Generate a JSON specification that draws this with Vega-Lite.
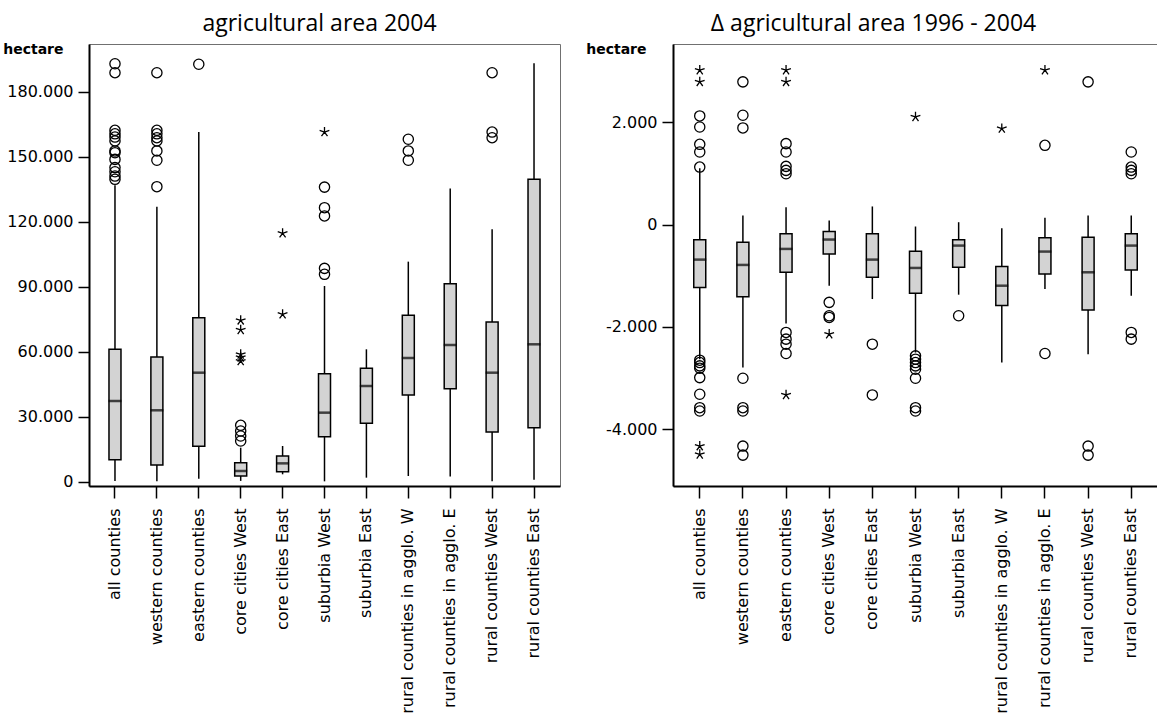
{
  "$schema": "https://vega.github.io/schema/vega-lite/v6.json",
  "padding": {"left": 2, "top": 12, "right": 0, "bottom": 0},
  "spacing": 113,
  "bounds": "flush",
  "config": {
    "locale": {"number": {"decimal": ",", "thousands": ".", "grouping": [3], "currency": ["", ""], "minus": "-"}},
    "view": {"stroke": "#707070", "strokeWidth": 1},
    "font": "DejaVu Sans",
    "axis": {"domainColor": "black", "domainWidth": 2, "tickColor": "black", "tickWidth": 1.5, "labelColor": "black", "labelFont": "DejaVu Sans", "grid": false, "labelLimit": 400},
    "title": {"font": "Open Sans", "fontSize": 23, "fontWeight": "normal", "color": "black"}
  },
  "datasets": {
    "area2004_box": [
      {"cat": "all counties", "lo": 500, "q1": 10290, "med": 37380, "q3": 61240, "hi": 137000},
      {"cat": "western counties", "lo": 300, "q1": 7850, "med": 33090, "q3": 57700, "hi": 127000},
      {"cat": "eastern counties", "lo": 1500, "q1": 16470, "med": 50450, "q3": 75830, "hi": 161500},
      {"cat": "core cities West", "lo": 500, "q1": 2770, "med": 5080, "q3": 8900, "hi": 15830},
      {"cat": "core cities East", "lo": 3550, "q1": 4770, "med": 8600, "q3": 12000, "hi": 16600},
      {"cat": "suburbia West", "lo": 300, "q1": 20900, "med": 32000, "q3": 50000, "hi": 90450},
      {"cat": "suburbia East", "lo": 2000, "q1": 27090, "med": 44300, "q3": 52470, "hi": 61240},
      {"cat": "rural counties in agglo. W", "lo": 2770, "q1": 40150, "med": 57230, "q3": 76930, "hi": 101700},
      {"cat": "rural counties in agglo. E", "lo": 2500, "q1": 43060, "med": 63230, "q3": 91520, "hi": 135500},
      {"cat": "rural counties West", "lo": 300, "q1": 23080, "med": 50450, "q3": 73840, "hi": 116600},
      {"cat": "rural counties East", "lo": 1000, "q1": 25060, "med": 63550, "q3": 139700, "hi": 193300}
    ],
    "area2004_out": [
      {"cat": "all counties", "kind": "outlier", "value": 193050},
      {"cat": "all counties", "kind": "outlier", "value": 188900},
      {"cat": "all counties", "kind": "outlier", "value": 162300},
      {"cat": "all counties", "kind": "outlier", "value": 160700},
      {"cat": "all counties", "kind": "outlier", "value": 159200},
      {"cat": "all counties", "kind": "outlier", "value": 157400},
      {"cat": "all counties", "kind": "outlier", "value": 152800},
      {"cat": "all counties", "kind": "outlier", "value": 152000},
      {"cat": "all counties", "kind": "outlier", "value": 148900},
      {"cat": "all counties", "kind": "outlier", "value": 145100},
      {"cat": "all counties", "kind": "outlier", "value": 143200},
      {"cat": "all counties", "kind": "outlier", "value": 141200},
      {"cat": "all counties", "kind": "outlier", "value": 139700},
      {"cat": "western counties", "kind": "outlier", "value": 188900},
      {"cat": "western counties", "kind": "outlier", "value": 162300},
      {"cat": "western counties", "kind": "outlier", "value": 160700},
      {"cat": "western counties", "kind": "outlier", "value": 158900},
      {"cat": "western counties", "kind": "outlier", "value": 157400},
      {"cat": "western counties", "kind": "outlier", "value": 152800},
      {"cat": "western counties", "kind": "outlier", "value": 148500},
      {"cat": "western counties", "kind": "outlier", "value": 136300},
      {"cat": "eastern counties", "kind": "outlier", "value": 192800},
      {"cat": "core cities West", "kind": "extreme", "value": 74600},
      {"cat": "core cities West", "kind": "extreme", "value": 70200},
      {"cat": "core cities West", "kind": "extreme", "value": 58900},
      {"cat": "core cities West", "kind": "extreme", "value": 57500},
      {"cat": "core cities West", "kind": "extreme", "value": 55800},
      {"cat": "core cities West", "kind": "outlier", "value": 26150},
      {"cat": "core cities West", "kind": "outlier", "value": 23540},
      {"cat": "core cities West", "kind": "outlier", "value": 21230},
      {"cat": "core cities West", "kind": "outlier", "value": 18920},
      {"cat": "core cities East", "kind": "extreme", "value": 114800},
      {"cat": "core cities East", "kind": "extreme", "value": 77400},
      {"cat": "suburbia West", "kind": "extreme", "value": 161500},
      {"cat": "suburbia West", "kind": "outlier", "value": 136100},
      {"cat": "suburbia West", "kind": "outlier", "value": 126600},
      {"cat": "suburbia West", "kind": "outlier", "value": 122800},
      {"cat": "suburbia West", "kind": "outlier", "value": 98600},
      {"cat": "suburbia West", "kind": "outlier", "value": 95850},
      {"cat": "rural counties in agglo. W", "kind": "outlier", "value": 158200},
      {"cat": "rural counties in agglo. W", "kind": "outlier", "value": 152800},
      {"cat": "rural counties in agglo. W", "kind": "outlier", "value": 148500},
      {"cat": "rural counties West", "kind": "outlier", "value": 188900},
      {"cat": "rural counties West", "kind": "outlier", "value": 161500},
      {"cat": "rural counties West", "kind": "outlier", "value": 158900}
    ],
    "change_box": [
      {"cat": "all counties", "lo": -2633, "q1": -1229, "med": -686, "q3": -300, "hi": 1100},
      {"cat": "western counties", "lo": -2797, "q1": -1411, "med": -790, "q3": -347, "hi": 176},
      {"cat": "eastern counties", "lo": -1934, "q1": -934, "med": -477, "q3": -183, "hi": 339},
      {"cat": "core cities West", "lo": -1196, "q1": -575, "med": -294, "q3": -137, "hi": 78},
      {"cat": "core cities East", "lo": -1457, "q1": -1032, "med": -686, "q3": -183, "hi": 353},
      {"cat": "suburbia West", "lo": -2503, "q1": -1346, "med": -849, "q3": -523, "hi": -39},
      {"cat": "suburbia East", "lo": -1372, "q1": -836, "med": -412, "q3": -300, "hi": 45},
      {"cat": "rural counties in agglo. W", "lo": -2699, "q1": -1581, "med": -1196, "q3": -823, "hi": -72},
      {"cat": "rural counties in agglo. E", "lo": -1261, "q1": -966, "med": -529, "q3": -261, "hi": 131},
      {"cat": "rural counties West", "lo": -2535, "q1": -1673, "med": -934, "q3": -248, "hi": 176},
      {"cat": "rural counties East", "lo": -1392, "q1": -889, "med": -412, "q3": -183, "hi": 176}
    ],
    "change_out": [
      {"cat": "all counties", "kind": "extreme", "value": 3018},
      {"cat": "all counties", "kind": "extreme", "value": 2789},
      {"cat": "all counties", "kind": "extreme", "value": -4332},
      {"cat": "all counties", "kind": "extreme", "value": -4494},
      {"cat": "all counties", "kind": "outlier", "value": 2123},
      {"cat": "all counties", "kind": "outlier", "value": 1907},
      {"cat": "all counties", "kind": "outlier", "value": 1568},
      {"cat": "all counties", "kind": "outlier", "value": 1417},
      {"cat": "all counties", "kind": "outlier", "value": 1123},
      {"cat": "all counties", "kind": "outlier", "value": -2652},
      {"cat": "all counties", "kind": "outlier", "value": -2699},
      {"cat": "all counties", "kind": "outlier", "value": -2764},
      {"cat": "all counties", "kind": "outlier", "value": -2809},
      {"cat": "all counties", "kind": "outlier", "value": -2993},
      {"cat": "all counties", "kind": "outlier", "value": -3318},
      {"cat": "all counties", "kind": "outlier", "value": -3581},
      {"cat": "all counties", "kind": "outlier", "value": -3646},
      {"cat": "western counties", "kind": "outlier", "value": 2789},
      {"cat": "western counties", "kind": "outlier", "value": 2136},
      {"cat": "western counties", "kind": "outlier", "value": 1888},
      {"cat": "western counties", "kind": "outlier", "value": -3005},
      {"cat": "western counties", "kind": "outlier", "value": -3581},
      {"cat": "western counties", "kind": "outlier", "value": -3646},
      {"cat": "western counties", "kind": "outlier", "value": -4332},
      {"cat": "western counties", "kind": "outlier", "value": -4508},
      {"cat": "eastern counties", "kind": "extreme", "value": 3018},
      {"cat": "eastern counties", "kind": "extreme", "value": 2789},
      {"cat": "eastern counties", "kind": "extreme", "value": -3332},
      {"cat": "eastern counties", "kind": "outlier", "value": 1581},
      {"cat": "eastern counties", "kind": "outlier", "value": 1417},
      {"cat": "eastern counties", "kind": "outlier", "value": 1137},
      {"cat": "eastern counties", "kind": "outlier", "value": 1058},
      {"cat": "eastern counties", "kind": "outlier", "value": 993},
      {"cat": "eastern counties", "kind": "outlier", "value": -2110},
      {"cat": "eastern counties", "kind": "outlier", "value": -2241},
      {"cat": "eastern counties", "kind": "outlier", "value": -2339},
      {"cat": "eastern counties", "kind": "outlier", "value": -2522},
      {"cat": "core cities West", "kind": "extreme", "value": -2143},
      {"cat": "core cities West", "kind": "outlier", "value": -1522},
      {"cat": "core cities West", "kind": "outlier", "value": -1784},
      {"cat": "core cities West", "kind": "outlier", "value": -1816},
      {"cat": "core cities East", "kind": "outlier", "value": -2339},
      {"cat": "core cities East", "kind": "outlier", "value": -3332},
      {"cat": "suburbia West", "kind": "extreme", "value": 2104},
      {"cat": "suburbia West", "kind": "outlier", "value": -2568},
      {"cat": "suburbia West", "kind": "outlier", "value": -2633},
      {"cat": "suburbia West", "kind": "outlier", "value": -2699},
      {"cat": "suburbia West", "kind": "outlier", "value": -2764},
      {"cat": "suburbia West", "kind": "outlier", "value": -2829},
      {"cat": "suburbia West", "kind": "outlier", "value": -3005},
      {"cat": "suburbia West", "kind": "outlier", "value": -3581},
      {"cat": "suburbia West", "kind": "outlier", "value": -3646},
      {"cat": "suburbia East", "kind": "outlier", "value": -1784},
      {"cat": "rural counties in agglo. W", "kind": "extreme", "value": 1876},
      {"cat": "rural counties in agglo. E", "kind": "extreme", "value": 3018},
      {"cat": "rural counties in agglo. E", "kind": "outlier", "value": 1548},
      {"cat": "rural counties in agglo. E", "kind": "outlier", "value": -2522},
      {"cat": "rural counties West", "kind": "outlier", "value": 2789},
      {"cat": "rural counties West", "kind": "outlier", "value": -4332},
      {"cat": "rural counties West", "kind": "outlier", "value": -4508},
      {"cat": "rural counties East", "kind": "outlier", "value": 1417},
      {"cat": "rural counties East", "kind": "outlier", "value": 1123},
      {"cat": "rural counties East", "kind": "outlier", "value": 1058},
      {"cat": "rural counties East", "kind": "outlier", "value": 993},
      {"cat": "rural counties East", "kind": "outlier", "value": -2110},
      {"cat": "rural counties East", "kind": "outlier", "value": -2241}
    ]
  },
  "hconcat": [
    {
      "width": 471,
      "height": 442,
      "title": {"text": "agricultural area 2004", "dx": -5, "offset": 6},
      "layer": [
        {
          "data": {"name": "area2004_box"},
          "mark": {"type": "rule", "color": "black", "strokeWidth": 1.5},
          "encoding": {
            "x": {"field": "cat", "type": "nominal", "sort": null, "scale": {"type": "band", "paddingInner": 0, "paddingOuter": 0.12}, "axis": {"title": null, "labelAngle": -90, "labelFontSize": 16, "tickSize": 12, "labelPadding": 10}},
            "y": {"field": "lo", "type": "quantitative", "scale": {"domain": [-1850, 202150], "nice": false, "zero": false},
              "axis": {"values": [0, 30000, 60000, 90000, 120000, 150000, 180000], "format": ",d", "labelFontSize": 16, "tickSize": 11, "labelPadding": 5,
                "title": "hectare", "titleAngle": 0, "titleAlign": "right", "titleBaseline": "middle", "titleX": -26, "titleY": 5, "titleFont": "DejaVu Sans", "titleFontSize": 14, "titleFontWeight": "bold", "titleColor": "black"}},
            "y2": {"field": "hi"}
          }
        },
        {
          "data": {"name": "area2004_box"},
          "mark": {"type": "bar", "fill": "#d3d3d3", "stroke": "black", "strokeWidth": 1.5, "size": 12},
          "encoding": {
            "x": {"field": "cat", "type": "nominal", "sort": null},
            "y": {"field": "q1", "type": "quantitative"},
            "y2": {"field": "q3"}
          }
        },
        {
          "data": {"name": "area2004_box"},
          "mark": {"type": "tick", "color": "black", "thickness": 2.5, "size": 13},
          "encoding": {
            "x": {"field": "cat", "type": "nominal", "sort": null},
            "y": {"field": "med", "type": "quantitative"}
          }
        },
        {
          "data": {"name": "area2004_out"},
          "mark": {"type": "point", "filled": false, "stroke": "black", "strokeWidth": 1.3, "size": 105, "opacity": 1},
          "encoding": {
            "x": {"field": "cat", "type": "nominal", "sort": null},
            "y": {"field": "value", "type": "quantitative"},
            "shape": {"field": "kind", "type": "nominal", "legend": null,
              "scale": {"domain": ["outlier", "extreme"], "range": ["circle", "M0,0L0,-1M0,0L0.951,-0.309M0,0L0.588,0.809M0,0L-0.588,0.809M0,0L-0.951,-0.309"]}}
          }
        }
      ]
    },
    {
      "width": 485,
      "height": 442,
      "title": {"text": "Δ agricultural area 1996 - 2004", "dx": -42, "offset": 6},
      "layer": [
        {
          "data": {"name": "change_box"},
          "mark": {"type": "rule", "color": "black", "strokeWidth": 1.5},
          "encoding": {
            "x": {"field": "cat", "type": "nominal", "sort": null, "scale": {"type": "band", "paddingInner": 0, "paddingOuter": 0.12}, "axis": {"title": null, "labelAngle": -90, "labelFontSize": 16, "tickSize": 12, "labelPadding": 10}},
            "y": {"field": "lo", "type": "quantitative", "scale": {"domain": [-5112, 3529], "nice": false, "zero": false},
              "axis": {"values": [-4000, -2000, 0, 2000], "format": ",d", "labelFontSize": 16, "tickSize": 11, "labelPadding": 5,
                "title": "hectare", "titleAngle": 0, "titleAlign": "right", "titleBaseline": "middle", "titleX": -27, "titleY": 5, "titleFont": "DejaVu Sans", "titleFontSize": 14, "titleFontWeight": "bold", "titleColor": "black"}},
            "y2": {"field": "hi"}
          }
        },
        {
          "data": {"name": "change_box"},
          "mark": {"type": "bar", "fill": "#d3d3d3", "stroke": "black", "strokeWidth": 1.5, "size": 12},
          "encoding": {
            "x": {"field": "cat", "type": "nominal", "sort": null},
            "y": {"field": "q1", "type": "quantitative"},
            "y2": {"field": "q3"}
          }
        },
        {
          "data": {"name": "change_box"},
          "mark": {"type": "tick", "color": "black", "thickness": 2.5, "size": 13},
          "encoding": {
            "x": {"field": "cat", "type": "nominal", "sort": null},
            "y": {"field": "med", "type": "quantitative"}
          }
        },
        {
          "data": {"name": "change_out"},
          "mark": {"type": "point", "filled": false, "stroke": "black", "strokeWidth": 1.3, "size": 105, "opacity": 1},
          "encoding": {
            "x": {"field": "cat", "type": "nominal", "sort": null},
            "y": {"field": "value", "type": "quantitative"},
            "shape": {"field": "kind", "type": "nominal", "legend": null,
              "scale": {"domain": ["outlier", "extreme"], "range": ["circle", "M0,0L0,-1M0,0L0.951,-0.309M0,0L0.588,0.809M0,0L-0.588,0.809M0,0L-0.951,-0.309"]}}
          }
        }
      ]
    }
  ]
}
